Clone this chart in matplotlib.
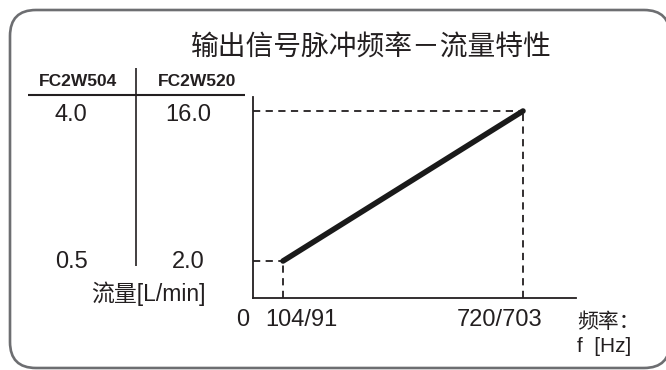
import matplotlib
matplotlib.use("Agg")
import matplotlib.pyplot as plt
from matplotlib.patches import FancyBboxPatch

plt.rcParams['font.family'] = ['Liberation Sans', 'Noto Sans CJK SC', 'DejaVu Sans']

# ---- data ----
title = "输出信号脉冲频率－流量特性"
models = ["FC2W504", "FC2W520"]
flow_504 = [0.5, 4.0]          # L/min (min, max)
flow_520 = [2.0, 16.0]         # L/min (min, max)
freq_values = [104, 720]       # Hz (FC2W504 values)
freq_labels = ["104/91", "720/703"]
flow_label = "流量[L/min]"
freq_label = "频率：\nf  [Hz]"

TXT = "#231f20"
W, H = 666, 370
fig = plt.figure(figsize=(W / 100, H / 100), dpi=100)

# overlay axes in pixel coordinates for frame / table / labels
bg = fig.add_axes([0, 0, 1, 1])
bg.set_xlim(0, W)
bg.set_ylim(H, 0)
bg.axis("off")

frame = FancyBboxPatch((10, 10), 660, 358, boxstyle="round,pad=0,rounding_size=26",
                       fc="white", ec="#6d6e71", lw=1.9, zorder=0)
bg.add_patch(frame)

bg.text(371, 49, title, ha="center", va="center", fontsize=20, color=TXT,
        fontweight="medium")

# table
bg.plot([28, 245], [95, 95], color=TXT, lw=1.5, solid_capstyle="butt")
bg.plot([136, 136], [68, 266], color=TXT, lw=1.2, solid_capstyle="butt")
col_x = [78, 197]
val_x = [71, 188]
for cx, m in zip(col_x, models):
    bg.text(cx, 82, m, ha="center", va="center", fontsize=12.5, fontweight="bold", color=TXT)
for vx, vals in zip(val_x, [flow_504, flow_520]):
    bg.text(vx, 115, f"{vals[1]:.1f}", ha="center", va="center", fontsize=17, color=TXT)
    bg.text(vx, 262, f"{vals[0]:.1f}", ha="center", va="center", fontsize=17, color=TXT)
bg.text(148, 294, flow_label, ha="center", va="center", fontsize=16.5, color=TXT)

# main plot axes
x0_px, x1_px, y_top_px, y_bot_px = 253, 576, 97, 298
ax = fig.add_axes([x0_px / W, 1 - y_bot_px / H, (x1_px - x0_px) / W, (y_bot_px - y_top_px) / H])
ax.patch.set_alpha(0)
for s in ["top", "right"]:
    ax.spines[s].set_visible(False)
for s in ["left", "bottom"]:
    ax.spines[s].set_linewidth(1.3)
    ax.spines[s].set_color(TXT)
ax.set_xticks([])
ax.set_yticks([])

# schematic scales: points at pixel (283,261) and (523,111)
px_per_hz = (523 - 283) / (freq_values[1] - freq_values[0])
px_per_flow = (261 - 111) / (flow_520[1] - flow_520[0])
xmin = freq_values[0] - (283 - x0_px) / px_per_hz
xmax = xmin + (x1_px - x0_px) / px_per_hz
ymin = flow_520[0] - (y_bot_px - 261) / px_per_flow
ymax = ymin + (y_bot_px - y_top_px) / px_per_flow
ax.set_xlim(xmin, xmax)
ax.set_ylim(ymin, ymax)

dash = dict(color=TXT, lw=1.3, linestyle=(0, (4, 3)))
for fx, fy in zip(freq_values, flow_520):
    ax.plot([xmin, fx], [fy, fy], **dash)
    ax.plot([fx, fx], [ymin, fy], **dash)
ax.plot(freq_values, flow_520, color="#1a1a1a", lw=4, solid_capstyle="round", zorder=3)

# x labels
bg.text(243, 320, "0", ha="center", va="center", fontsize=17, color=TXT)
bg.text(301, 320, freq_labels[0], ha="center", va="center", fontsize=17, color=TXT)
bg.text(500, 320, freq_labels[1], ha="center", va="center", fontsize=17, color=TXT)
bg.text(577, 334, freq_label, ha="left", va="center", fontsize=15, color=TXT, linespacing=1.35)

fig.savefig("out.png", dpi=100)
